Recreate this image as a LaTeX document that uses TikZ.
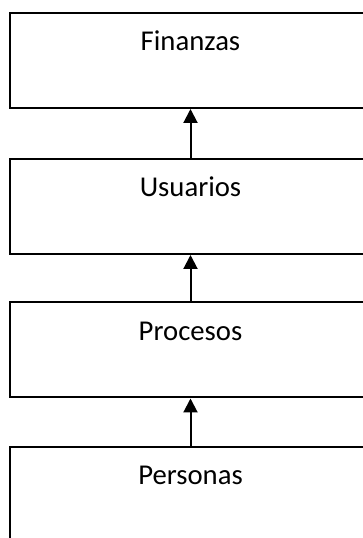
\documentclass[tikz,border=0pt]{standalone}
\usepackage{fontspec}
\setmainfont{Carlito}
\usetikzlibrary{arrows.meta}
\tikzset{
  layer/.style={draw, line width=2pt, minimum width=361pt, inner xsep=0pt, inner ysep=0pt,
    text height=38pt, text depth=57pt, font=\fontsize{28.7}{34}\selectfont},
  up/.style={line width=2pt, -{Triangle[width=14pt,length=14pt]}}
}
\begin{document}
\begin{tikzpicture}[x=1pt, y=1pt]
      \useasboundingbox (0,0) rectangle (363,538);
      \clip (0,0) rectangle (363,538);
      \node[layer] (fin) at (190.5, 477.5){Finanzas};
      \node[layer] (usu) at (190.5, 331.5){Usuarios};
      \node[layer] (pro) at (190.5, 188){Procesos};
      \node[layer] (per) at (190.5, 43.5){Personas};
      \draw[up](usu.north) to (fin.south);
      \draw[up](pro.north) to (usu.south);
      \draw[up](per.north) to (pro.south);
    \end{tikzpicture}
\end{document}
